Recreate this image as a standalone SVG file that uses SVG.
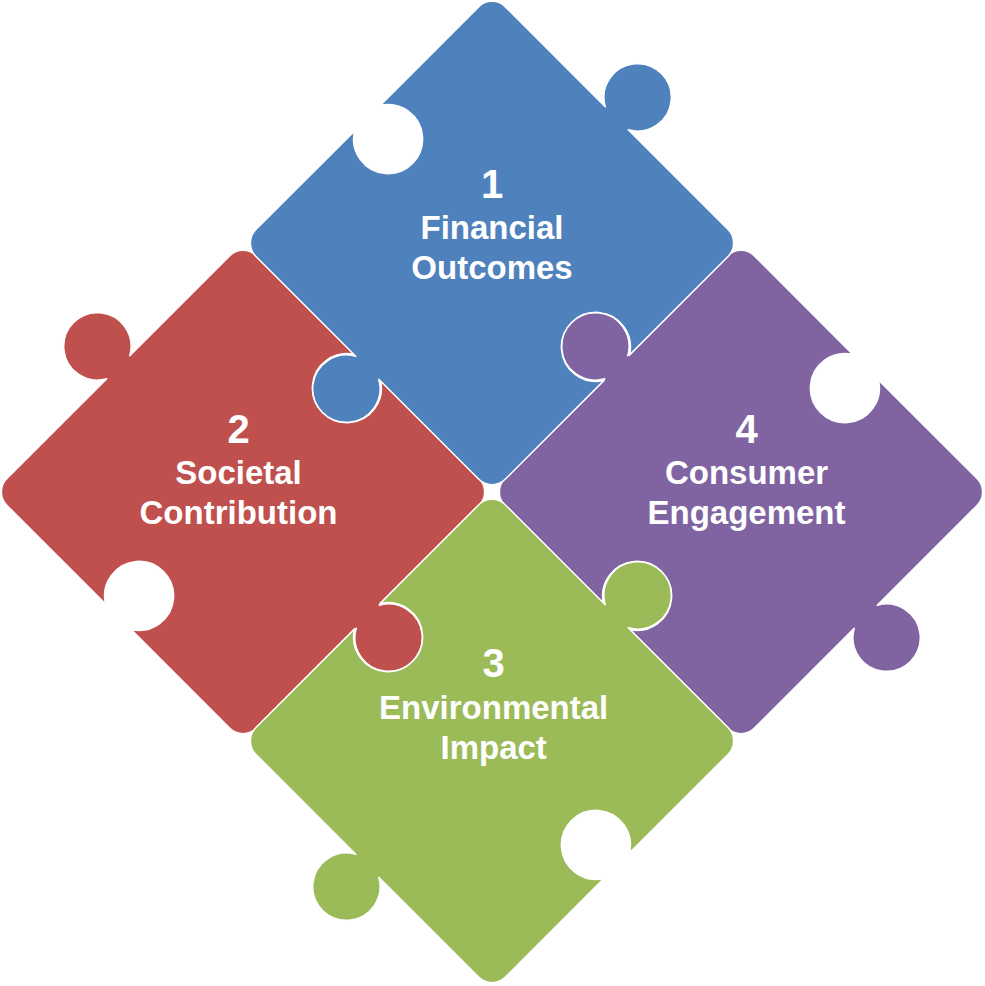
<svg xmlns="http://www.w3.org/2000/svg" xmlns:xlink="http://www.w3.org/1999/xlink" width="985" height="986" viewBox="0 0 985 986">
  <style>
    .piece { stroke: #ffffff; stroke-width: 1.5; stroke-linejoin: round; }
    .blue { fill: #4F81BD; }
    .red { fill: #C0504D; }
    .purple { fill: #8064A2; }
    .green { fill: #9BBB59; }
    .num { font-family: "Liberation Sans", Arial, sans-serif; font-weight: bold; font-size: 40px; fill: #ffffff; text-anchor: middle; }
    .lbl { font-family: "Liberation Sans", Arial, sans-serif; font-weight: bold; font-size: 33px; fill: #ffffff; text-anchor: middle; }
  </style>
  <defs>
    <!-- knobs on top & bottom edges, holes on right & left edges (local square, rotated 45deg) -->
    <path id="pieceA" d="M -157.42 -176.42 L -16.29 -176.42 A 33.7 33.7 0 1 1 16.29 -176.42 L 157.42 -176.42 A 19 19 0 0 1 176.42 -157.42 L 176.42 -17.89 A 34.5 34.5 0 1 0 176.42 17.89 L 176.42 157.42 A 19 19 0 0 1 157.42 176.42 L 16.29 176.42 A 33.7 33.7 0 1 1 -16.29 176.42 L -157.42 176.42 A 19 19 0 0 1 -176.42 157.42 L -176.42 17.89 A 34.5 34.5 0 1 0 -176.42 -17.89 L -176.42 -157.42 A 19 19 0 0 1 -157.42 -176.42 Z"/>
    <!-- holes on top & bottom edges, knobs on right & left edges -->
    <path id="pieceB" d="M -157.42 -176.42 L -17.89 -176.42 A 34.5 34.5 0 1 0 17.89 -176.42 L 157.42 -176.42 A 19 19 0 0 1 176.42 -157.42 L 176.42 -16.29 A 33.7 33.7 0 1 1 176.42 16.29 L 176.42 157.42 A 19 19 0 0 1 157.42 176.42 L 17.89 176.42 A 34.5 34.5 0 1 0 -17.89 176.42 L -157.42 176.42 A 19 19 0 0 1 -176.42 157.42 L -176.42 16.29 A 33.7 33.7 0 1 1 -176.42 -16.29 L -176.42 -157.42 A 19 19 0 0 1 -157.42 -176.42 Z"/>
  </defs>

  <g id="piece-2-societal">
    <use href="#pieceB" xlink:href="#pieceB" class="piece red" transform="translate(243,492) rotate(45)"/>
    <text class="num" x="238.5" y="443">2</text>
    <text class="lbl" x="238.5" y="483.5">Societal</text>
    <text class="lbl" x="238.5" y="524">Contribution</text>
  </g>

  <g id="piece-4-consumer">
    <use href="#pieceB" xlink:href="#pieceB" class="piece purple" transform="translate(741,492) rotate(45)"/>
    <text class="num" x="746.5" y="443">4</text>
    <text class="lbl" x="746.5" y="483.5">Consumer</text>
    <text class="lbl" x="746.5" y="523.5">Engagement</text>
  </g>

  <g id="piece-1-financial">
    <use href="#pieceA" xlink:href="#pieceA" class="piece blue" transform="translate(492,243) rotate(45)"/>
    <text class="num" x="492" y="198">1</text>
    <text class="lbl" x="492" y="239">Financial</text>
    <text class="lbl" x="492" y="279">Outcomes</text>
  </g>

  <g id="piece-3-environmental">
    <use href="#pieceA" xlink:href="#pieceA" class="piece green" transform="translate(492,741) rotate(45)"/>
    <text class="num" x="493.7" y="677">3</text>
    <text class="lbl" x="493.7" y="718.5">Environmental</text>
    <text class="lbl" x="493.7" y="758.5">Impact</text>
  </g>

  <g id="connectors"/>
</svg>
